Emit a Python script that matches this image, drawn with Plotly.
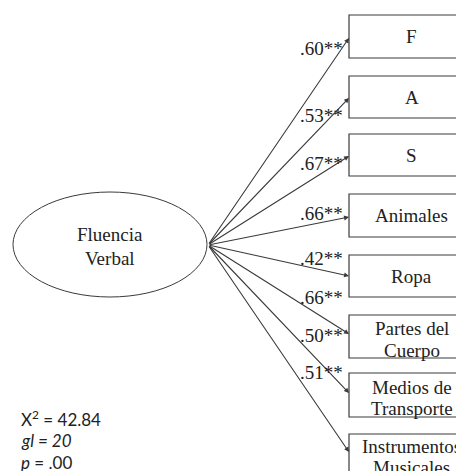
import plotly.graph_objects as go

latent = ["Fluencia", "Verbal"]
indicators = ["F", "A", "S", "Animales", "Ropa", "Partes del\nCuerpo",
              "Medios de\nTransporte", "Instrumentos\nMusicales"]
loadings = [".60**", ".53**", ".67**", ".66**", ".42**", ".66**", ".50**", ".51**"]
stats = ["X<sup>2</sup> = 42.84", "<i>gl = 20</i>", "<i>p</i> = .00"]

W, H = 464, 471
OFF = 8  # default page body margin
LINE = "#3a3a3a"
SERIF = "Liberation Serif"

# layout geometry (page pixels)
box_top = [15, 76, 134, 194, 255, 315, 373, 434]
box_bot = [58, 118, 176, 237, 297, 358, 417, 478]
tip_y = [38, 98, 156, 217, 276, 334, 393, 452]
lab_y = [48, 115, 163, 213, 258, 297, 335, 372]
line_y = {5: [328, 350], 6: [387, 408], 7: [446, 467]}
bx0, bx1 = 349, 476
ox, oy = 208, 245

shapes = []
annotations = []

# ellipse
shapes.append(dict(type="circle", xref="x", yref="y", x0=13, x1=207, y0=192, y1=297,
                   line=dict(color=LINE, width=1), fillcolor="white", layer="below"))
annotations.append(dict(x=110, y=234, text=latent[0], showarrow=False,
                        font=dict(family=SERIF, size=19, color="#222")))
annotations.append(dict(x=110, y=258, text=latent[1], showarrow=False,
                        font=dict(family=SERIF, size=19, color="#222")))

for i, name in enumerate(indicators):
    shapes.append(dict(type="rect", xref="x", yref="y", x0=bx0, x1=bx1,
                       y0=box_top[i], y1=box_bot[i],
                       line=dict(color=LINE, width=1.2), fillcolor="rgba(0,0,0,0)"))
    parts = name.split("\n")
    if len(parts) == 1:
        annotations.append(dict(x=(bx0 + bx1) / 2 - 1, y=(box_top[i] + box_bot[i]) / 2,
                                text=parts[0], showarrow=False,
                                font=dict(family=SERIF, size=19, color="#222")))
    else:
        for j, p in enumerate(parts):
            annotations.append(dict(x=(bx0 + bx1) / 2 - 1, y=line_y[i][j], text=p,
                                    showarrow=False,
                                    font=dict(family=SERIF, size=19, color="#222")))
    # arrow
    annotations.append(dict(x=bx0, y=tip_y[i], ax=ox, ay=oy, axref="x", ayref="y",
                            xref="x", yref="y", text="", showarrow=True,
                            arrowhead=2, arrowsize=0.9, arrowwidth=1.1,
                            arrowcolor=LINE, standoff=0))
    annotations.append(dict(x=345, y=lab_y[i], text=loadings[i], showarrow=False,
                            xanchor="right", yanchor="middle",
                            font=dict(family=SERIF, size=19, color="#222"),
                            bgcolor="rgba(0,0,0,0)"))

for k, s in enumerate(stats):
    annotations.append(dict(x=19, y=418 + 22 * k, text=s, showarrow=False,
                            xanchor="left", yanchor="middle",
                            font=dict(family="Lato", size=17, color="#222")))

fig = go.Figure()
fig.add_trace(go.Scatter(x=[OFF, W], y=[OFF, H], mode="markers",
                         marker=dict(opacity=0), hoverinfo="skip", showlegend=False))
fig.update_layout(
    width=W - OFF, height=H - OFF, margin=dict(l=0, r=0, t=0, b=0),
    paper_bgcolor="white", plot_bgcolor="white",
    xaxis=dict(range=[OFF, W], visible=False, fixedrange=True),
    yaxis=dict(range=[H, OFF], visible=False, fixedrange=True),
    shapes=shapes, annotations=annotations, showlegend=False,
)
fig.write_html("out.html")
